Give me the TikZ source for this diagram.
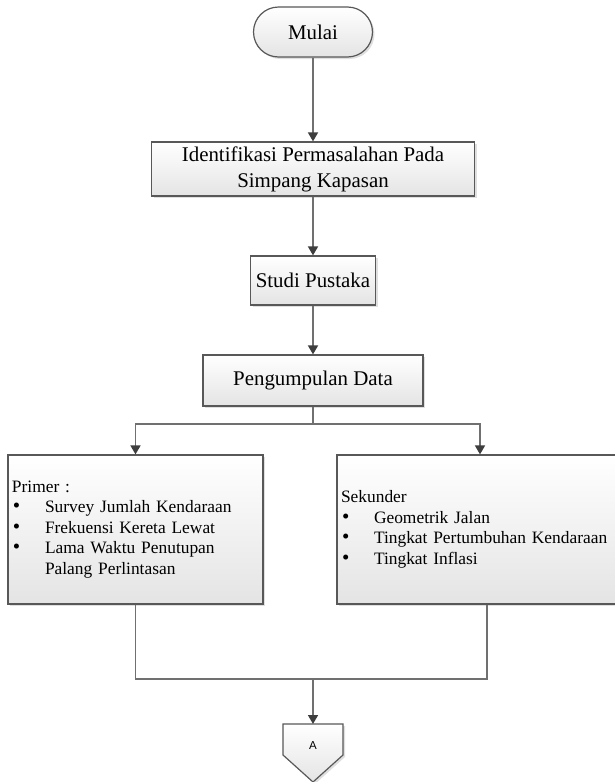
\documentclass[tikz,border=0pt]{standalone}
\usepackage{fontspec}
\setmainfont{Liberation Serif}
\setsansfont{Liberation Sans}
\usepackage{tikz}
\usetikzlibrary{arrows.meta, shapes.misc, shadows}

\definecolor{lineC}{RGB}{112,112,112}
\definecolor{tipC}{RGB}{62,62,62}
\definecolor{boxC}{RGB}{88,88,88}
\definecolor{fillC}{RGB}{228,228,228}

\tikzset{
    flowbox/.style={draw=boxC, line width=1.2pt, top color=white, bottom color=fillC, inner sep=4pt,
        drop shadow={shadow xshift=2pt, shadow yshift=-2pt, opacity=0.25}},
    bigtext/.style={font=\fontsize{20.9}{26}\selectfont, align=center},
    listtext/.style={font=\fontsize{17.4}{20.5}\selectfont, align=left},
    flowline/.style={draw=lineC, line width=1.6pt},
    flowarrow/.style={flowline, arrows={-Triangle[length=9pt, width=10pt, color=tipC]}},
}

\newcommand{\itm}[1]{\hspace*{1pt}\makebox[32pt][l]{\fontsize{21}{20}\selectfont\textbullet}#1}

\begin{document}
\begin{tikzpicture}[x=1pt, y=-1pt]
            \useasboundingbox (0,0) rectangle (614,782);

            % main steps
            \node[flowbox, bigtext, rounded rectangle, minimum width=127, minimum height=50] (mulai) at (313,32) {Mulai};
            \node[flowbox, bigtext, minimum width=323, minimum height=54] (ident) at (313,169)
                {Identifikasi Permasalahan Pada\\Simpang Kapasan};
            \node[flowbox, bigtext, minimum width=125, minimum height=49] (studi) at (313,280.5) {Studi Pustaka};
            \node[flowbox, bigtext, minimum width=220, minimum height=51] (data) at (313,380.5) {Pengumpulan Data};

            % data boxes
            \node[flowbox, listtext, text width=247, minimum height=149] (primer) at (135.5,529.5)
                {Primer :\\
                 \itm{Survey Jumlah Kendaraan}\\
                 \itm{Frekuensi Kereta Lewat}\\
                 \itm{Lama Waktu Penutupan}\\
                 \hspace*{33pt}Palang Perlintasan};
            \node[flowbox, listtext, text width=292, minimum height=149] (sekunder) at (487,529.5)
                {Sekunder\\
                 \itm{Geometrik Jalan}\\
                 \itm{Tingkat Pertumbuhan Kendaraan}\\
                 \itm{Tingkat Inflasi}};

            % connector A
            \coordinate (aTop) at (313,724);
            \draw[flowbox] (aTop) -- (343,724) -- (343,755) -- (313,782) -- (283,755) -- (283,724) -- cycle;
            \node[font=\sffamily\fontsize{11.5}{13}\selectfont] (labelA) at (313,746) {A};

            % arrows
            \foreach \From/\To in {mulai/ident, ident/studi, studi/data}{
                \draw[flowarrow] (\From) -- (\To);
            }

            % fork
            \coordinate (fork) at (313,424);
            \draw[flowline] (data) -- (fork);
            \draw[flowarrow] (fork) -| (primer.north);
            \draw[flowarrow] (fork) -| ([xshift=-7pt]sekunder.north);

            % join
            \coordinate (join) at (313,679);
            \draw[flowline] (primer) |- (join) -| (sekunder);
            \draw[flowarrow] (join) -- (aTop);
        \end{tikzpicture}
\end{document}
